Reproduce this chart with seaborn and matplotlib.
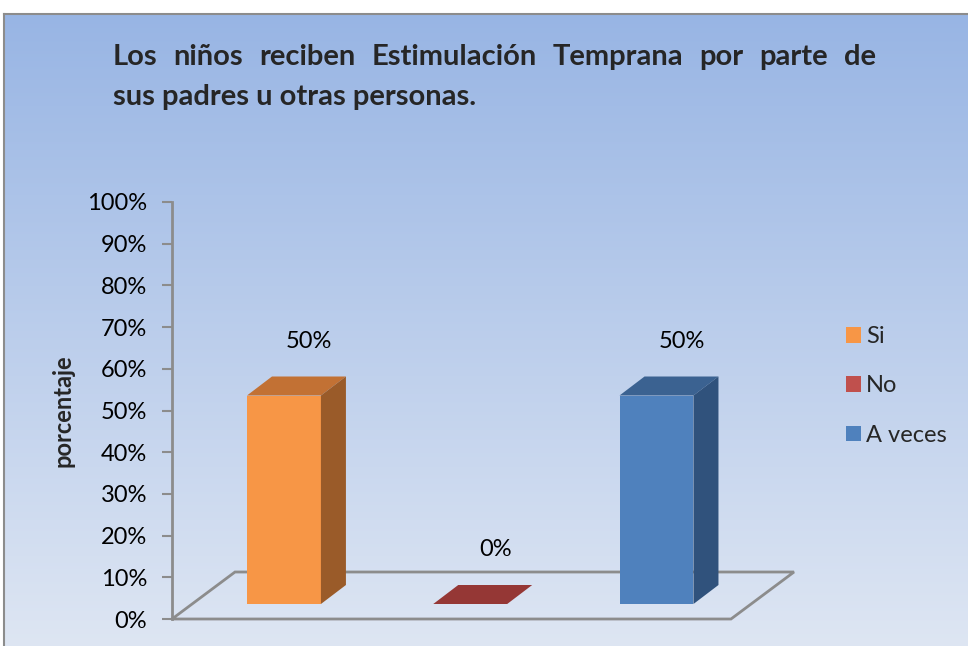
import numpy as np
import pandas as pd
import matplotlib
matplotlib.use("Agg")
import matplotlib.pyplot as plt
from matplotlib.patches import Polygon, Patch
from matplotlib.transforms import IdentityTransform
import seaborn as sns

# data
categorias = ["Si", "No", "A veces"]
porcentajes = [50, 0, 50]
etiquetas = ["50%", "0%", "50%"]
titulo_1 = "Los niños reciben Estimulación Temprana por parte de"
titulo_2 = "sus padres u otras personas."

frente = ["#F79646", "#C0504D", "#4F81BD"]
lado = ["#9A5B29", "#7A2F2D", "#30527C"]
arriba = ["#C27134", "#953735", "#3B6291"]

W, H = 968, 646
sns.set_theme(style="white")
plt.rcParams["font.family"] = ["Lato", "DejaVu Sans"]

fig = plt.figure(figsize=(W / 100, H / 100), dpi=100)

def box(x0, y0, x1, y1):
    # pixel box (top-left origin) -> figure fraction
    return [x0 / W, 1 - y1 / H, (x1 - x0) / W, (y1 - y0) / H]

# background gradient with frame
bg = fig.add_axes(box(4, 14, W + 2, H + 2), zorder=0)
grad = np.linspace(0, 1, 256).reshape(-1, 1)
top_c = np.array([152, 181, 228]) / 255
bot_c = np.array([222, 230, 243]) / 255
img = top_c + (bot_c - top_c) * grad[..., None]
bg.imshow(img, aspect="auto", extent=[0, 1, 0, 1])
bg.set_xticks([]); bg.set_yticks([])
for s in ["right", "bottom"]:
    bg.spines[s].set_visible(False)
for s in ["top", "left"]:
    bg.spines[s].set_color("#8C8C8C")
    bg.spines[s].set_linewidth(1.5)

xlim = (-0.601, 2.40)
gray = "#8C8C8C"

# axis with the scale (0% at floor front)
ax = fig.add_axes(box(172, 202, 731, 619), zorder=1)
ax.patch.set_alpha(0)
ax.set_xlim(*xlim)
ax.set_ylim(0, 100)
ax.set_yticks(range(0, 101, 10))
ax.set_yticklabels([f"{v}%" for v in range(0, 101, 10)], fontsize=17, color="black")
ax.set_xticks([])
for s in ["top", "right", "bottom"]:
    ax.spines[s].set_visible(False)
ax.spines["left"].set_color(gray)
ax.spines["left"].set_linewidth(2)
ax.tick_params(axis="y", direction="out", length=7, width=1.5, color=gray, pad=11, left=True)
ax.set_ylabel("porcentaje", fontsize=17, fontweight="bold")
ax.yaxis.set_label_coords(-0.174, 0.5)

# floor parallelogram
fig.canvas.draw()
p0 = ax.transData.transform((xlim[0], 0))
p1 = ax.transData.transform((xlim[1], 0))
fdx, fdy = 63, 47
floor = Polygon([p0, p1, p1 + [fdx, fdy], p0 + [fdx, fdy]], closed=True,
                fill=False, edgecolor=gray, linewidth=2, transform=IdentityTransform(),
                zorder=1.5)
fig.add_artist(floor)

# bars axis (base sits in the middle of the floor)
axb = fig.add_axes(box(172, 187, 731, 604), zorder=2)
axb.patch.set_alpha(0)
df = pd.DataFrame({"categoria": categorias, "porcentaje": porcentajes})
sns.barplot(data=df, x="categoria", y="porcentaje", hue="categoria",
            palette=frente, width=0.397, legend=False, ax=axb,
            saturation=1, linewidth=0)
axb.set_xlim(*xlim)
axb.set_ylim(0, 100)
axb.axis("off")

fig.canvas.draw()
dx, dy = 25, 19
for i, bar in enumerate(axb.patches):
    x0, y0 = bar.get_x(), bar.get_y()
    x1, y1 = x0 + bar.get_width(), y0 + bar.get_height()
    a = axb.transData.transform((x0, y1))
    b = axb.transData.transform((x1, y1))
    c = axb.transData.transform((x1, y0))
    d = np.array([dx, dy])
    top = Polygon([a, b, b + d, a + d], closed=True, facecolor=arriba[i],
                  edgecolor="none", transform=IdentityTransform(), zorder=2.5)
    fig.add_artist(top)
    if bar.get_height() > 0:
        side = Polygon([c, b, b + d, c + d], closed=True, facecolor=lado[i],
                       edgecolor="none", transform=IdentityTransform(), zorder=2.5)
        fig.add_artist(side)
    axb.annotate(etiquetas[i], (bar.get_x() + bar.get_width() / 2, bar.get_height()),
                 xytext=(18, 39), textcoords="offset points", ha="center",
                 va="center", fontsize=17, color="black")

# legend
handles = [Patch(facecolor=c, edgecolor="none", label=l) for c, l in zip(frente, categorias)]
fig.legend(handles=handles, loc="center left", bbox_to_anchor=(846 / W, 1 - 386 / H),
           frameon=False, fontsize=17, handlelength=0.64, handleheight=0.64,
           handletextpad=0.22, labelspacing=1.2, borderaxespad=0, borderpad=0)

# title: first line justified
renderer = fig.canvas.get_renderer()
words = titulo_1.split()
tx0, tx1 = 113, 876
ty1, ty2 = 57, 97
arts = [fig.text(0, 1 - ty1 / H, w, fontsize=21, fontweight="bold", va="center")
        for w in words]
widths = [t.get_window_extent(renderer).width for t in arts]
gap = (tx1 - tx0 - sum(widths)) / (len(words) - 1)
x = tx0
for t, w in zip(arts, widths):
    t.set_x(x / W)
    x += w + gap
fig.text(tx0 / W, 1 - ty2 / H, titulo_2, fontsize=21, fontweight="bold", va="center")

fig.savefig("out.png", dpi=100)
